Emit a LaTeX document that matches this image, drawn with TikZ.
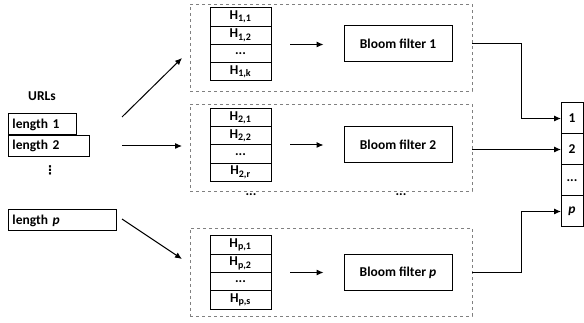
\documentclass[tikz,border=0pt]{standalone}
\usepackage{fontspec}
\setmainfont{Carlito}
\newfontfamily\dejavu{DejaVu Sans}
\usetikzlibrary{positioning,arrows.meta}
\newcommand{\hsub}[1]{\textsubscript{\fontsize{10}{10}\selectfont #1}}
\tikzset{%
  txt/.style={font=\fontsize{13.5}{15}\selectfont\bfseries},
  grp/.style={draw=gray,dashed,line width=.9pt,minimum width=282pt,minimum height=87pt},
  cell/.style={draw,line width=1pt,minimum width=61pt,minimum height=18.25pt,inner sep=0pt,outer sep=0pt,font=\fontsize{13.5}{14}\selectfont\bfseries},
  bf/.style={txt,draw,line width=1pt,minimum width=108pt,minimum height=36pt},
  url/.style={txt,draw,line width=1pt,minimum height=21pt,inner xsep=4pt,inner ysep=0pt,text width=#1,align=left,anchor=west},
  outc/.style={txt,draw,line width=1pt,minimum width=22pt,minimum height=31pt,inner sep=0pt,outer sep=0pt},
  con/.style={-{Latex[length=7pt,width=6pt]},line width=1pt}
}

\begin{document}
\begin{tikzpicture}[x=1pt,y=-1pt]
  \useasboundingbox (0,0) rectangle (584,323);

  % urls
  \node[txt] (urls) at (42,96) {URLs};
  \node[url=60pt] (len1) at (8,124.5) {length 1};
  \node[url=73pt] (len2) at (8,146) {length 2};
  \node[font=\dejavu\bfseries\fontsize{12}{12}\selectfont] (vd) at (50,170) {⋮};
  \node[url=100pt] (lenp) at (8,220.5) {length \textit{p}};

  % groups
  \node[grp] (g1) at (331,47.5) {};
  \node[grp] (g2) at (331,147.5) {};
  \node[grp,minimum height=88pt] (g3) at (331,272) {};

  % hash functions
  \node[cell,anchor=north] (h11) at (240.5,8) {H\hsub{1,1}};
  \node[cell,below=0pt of h11] (h12) {H\hsub{1,2}};
  \node[cell,below=0pt of h12] (h1d) {...};
  \node[cell,below=0pt of h1d] (h1k) {H\hsub{1,k}};

  \node[cell,anchor=north] (h21) at (240.5,108.5) {H\hsub{2,1}};
  \node[cell,below=0pt of h21] (h22) {H\hsub{2,2}};
  \node[cell,below=0pt of h22] (h2d) {...};
  \node[cell,below=0pt of h2d] (h2r) {H\hsub{2,r}};

  \node[cell,anchor=north] (hp1) at (240.5,236) {H\hsub{p,1}};
  \node[cell,below=0pt of hp1] (hp2) {H\hsub{p,2}};
  \node[cell,below=0pt of hp2] (hpd) {...};
  \node[cell,below=0pt of hpd] (hps) {H\hsub{p,s}};

  % bloom filters
  \node[bf] (bf1) at (398,44) {Bloom filter 1};
  \node[bf] (bf2) at (398,144.5) {Bloom filter 2};
  \node[bf] (bfp) at (398,272.5) {Bloom filter \textit{p}};

  \node[txt] (d1) at (251,195) {...};
  \node[txt] (d2) at (401,195) {...};

  % output
  \node[outc,anchor=north] (o1) at (572,103) {1};
  \node[outc,below=0pt of o1] (o2) {2};
  \node[outc,below=0pt of o2] (od) {...};
  \node[outc,below=0pt of od] (op) {\textit{p}};

  % arrows
  \coordinate (a1) at (122,117);
  \coordinate (b1) at (182,58);
  \coordinate (a2) at (122,146);
  \coordinate (b2) at (182,146);
  \coordinate (ap) at (122,219);
  \coordinate (bp) at (182,259);
  \draw[con] (a1) -- (b1);
  \draw[con] (a2) -- (b2);
  \draw[con] (ap) -- (bp);

  \draw[con] ([xshift=19pt]h12.south east) -- ([xshift=-20pt]bf1.west |- h12.south);
  \draw[con] ([xshift=19pt]h22.south east) -- ([xshift=-20pt]bf2.west |- h22.south);
  \draw[con] ([xshift=19pt]hp2.south east) -- ([xshift=-20pt]bfp.west |- hp2.south);

  \draw[con] (bf1 -| g1.east) -- ++(49,0) |- (o1);
  \draw[con] (g2.east |- o2) -- (o2);
  \draw[con] (bfp -| g3.east) -- ++(49,0) |- (op);
\end{tikzpicture}
\end{document}
